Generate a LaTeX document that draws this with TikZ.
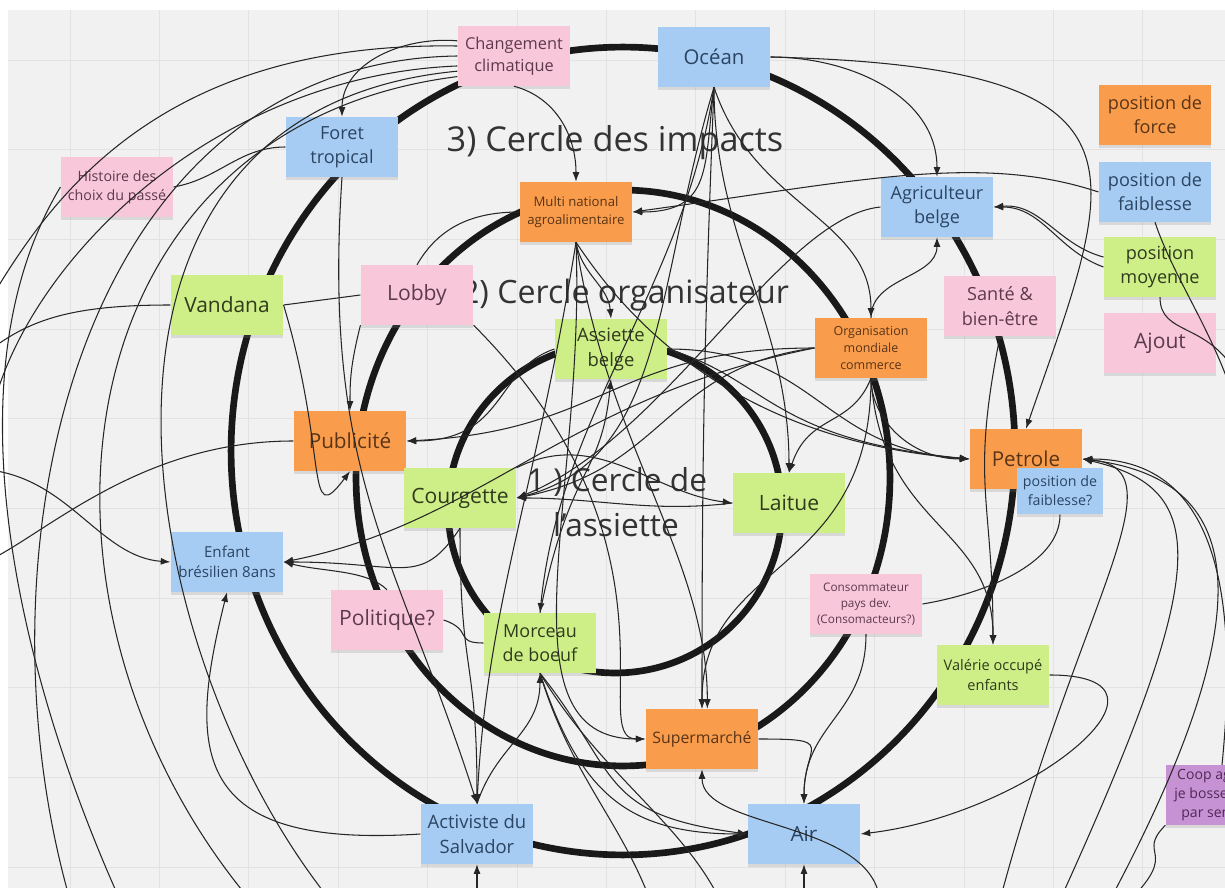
\documentclass[tikz,border=0pt]{standalone}
\usepackage{fontspec}
\setmainfont{Open Sans}
\usetikzlibrary{arrows.meta,shadows}

\definecolor{board}{HTML}{F1F1F1}
\definecolor{gridline}{HTML}{E2E2E2}
\definecolor{notepink}{HTML}{F9C7DA}
\definecolor{noteblue}{HTML}{A7CCF3}
\definecolor{notegreen}{HTML}{CEEE88}
\definecolor{noteorange}{HTML}{F99D4D}
\definecolor{notepurple}{HTML}{C792D3}
\definecolor{inkpink}{HTML}{5C3A4C}
\definecolor{inkblue}{HTML}{2B4563}
\definecolor{inkgreen}{HTML}{2F3B1C}
\definecolor{inkorange}{HTML}{5A3416}
\definecolor{inkpurple}{HTML}{4F2A57}
\definecolor{titleink}{HTML}{333333}

\newcommand{\fs}[1]{\fontsize{#1}{\fpeval{1.35*#1}}\selectfont}

\begin{document}
\begin{tikzpicture}[x=0.02cm, y=0.02cm, >={Latex[length=5.5pt,width=4pt]}]
    \tikzstyle{note} = [rectangle, minimum width=64pt, minimum height=34pt, text centered, align=center, inner sep=1pt, drop shadow={shadow xshift=0pt, shadow yshift=-1.6pt, opacity=0.22}]
    \tikzstyle{pinknote} = [note, fill=notepink, text=inkpink]
    \tikzstyle{bluenote} = [note, fill=noteblue, text=inkblue]
    \tikzstyle{greennote} = [note, fill=notegreen, text=inkgreen]
    \tikzstyle{orangenote} = [note, fill=noteorange, text=inkorange]
    \tikzstyle{purplenote} = [note, fill=notepurple, text=inkpurple]
    \tikzstyle{title} = [text=titleink, inner sep=0pt]
    \tikzstyle{ring} = [line width=3.8pt, black!90]
    \tikzstyle{link} = [line width=0.6pt, black!85]

    % Board
    \useasboundingbox (0,0) rectangle (1225,-888);
    \clip (0,0) rectangle (1225,-888);
    \fill [white] (0,0) rectangle (1225,-888);
    \fill [board] (8,-10) rectangle (1225,-888);
    \foreach \gx in {70,159.4,...,1225} \draw [gridline, line width=0.5pt] (\gx,-10) -- (\gx,-888);
    \foreach \gy in {60,149.7,...,888} \draw [gridline, line width=0.5pt] (8,-\gy) -- (1225,-\gy);

    % Circles
    \draw [ring] (623,-451) ellipse [x radius=7.84cm, y radius=8.08cm];
    \draw [ring] (623,-478) ellipse [x radius=5.34cm, y radius=5.76cm];
    \draw [ring] (615,-508) ellipse [x radius=3.34cm, y radius=3.3cm];

    % Titles
    \node [title, font=\fs{19.5}] (t3) at (615,-143) {3) Cercle des impacts};
    \node [title, font=\fs{18.3}] (t2) at (625,-295) {2) Cercle organisateur};
    \node [title, font=\fs{18}] (t1a) at (617,-482) {1 ) Cercle de};
    \node [title, font=\fs{18}] (t1b) at (616,-525) {l'assiette};

    % Impacts
    \node [pinknote, font=\fs{9.3}] (chg) at (514,-56) {Changement\\climatique};
    \node [bluenote, font=\fs{11.6}] (ocean) at (714,-57) {Océan};
    \node [bluenote, font=\fs{10.3}] (foret) at (342,-147) {Foret\\tropical};
    \node [pinknote, font=\fs{8.1}] (histoire) at (117,-187) {Histoire des\\choix du passé};
    \node [greennote, font=\fs{11.9}] (vandana) at (227,-305) {Vandana};
    \node [bluenote, font=\fs{10.3}] (agri) at (937,-207) {Agriculteur\\belge};
    \node [pinknote, font=\fs{10.3}] (sante) at (1000,-306) {Santé \&\\bien-être};
    \node [orangenote, font=\fs{11.7}] (petrole) at (1026,-459) {Petrole};
    \node [bluenote, font=\fs{8.1}, minimum width=49pt, minimum height=26.6pt] (faibleq) at (1060,-491) {position de\\faiblesse?};
    \node [greennote, font=\fs{8.3}] (valerie) at (993,-675) {Valérie occupé\\enfants};
    \node [bluenote, font=\fs{8.6}] (enfant) at (227,-562) {Enfant\\brésilien 8ans};
    \node [bluenote, font=\fs{10.5}] (activiste) at (477,-834) {Activiste du\\Salvador};
    \node [bluenote, font=\fs{11.8}] (air) at (804,-834) {Air};

    % Organisers
    \node [pinknote, font=\fs{12}] (lobby) at (417,-295) {Lobby};
    \node [orangenote, font=\fs{7.5}] (multi) at (576,-212) {Multi national\\agroalimentaire};
    \node [orangenote, font=\fs{7.1}] (omc) at (871,-348) {Organisation\\mondiale\\commerce};
    \node [orangenote, font=\fs{11.8}] (pub) at (350,-441) {Publicité};
    \node [pinknote, font=\fs{6.7}] (conso) at (866,-604) {Consommateur\\pays dev.\\(Consomacteurs?)};
    \node [pinknote, font=\fs{12}] (politique) at (387,-620) {Politique?};
    \node [orangenote, font=\fs{9}] (superm) at (702,-739) {Supermarché};

    % Plate
    \node [greennote, font=\fs{10.5}] (assiette) at (611,-349) {Assiette\\belge};
    \node [greennote, font=\fs{12}] (courgette) at (460,-498) {Courgette};
    \node [greennote, font=\fs{12}] (laitue) at (789,-503) {Laitue};
    \node [greennote, font=\fs{10.2}] (morceau) at (540,-643) {Morceau\\de boeuf};

    % Legend
    \node [orangenote, font=\fs{10.3}] (force) at (1155,-115) {position de\\force};
    \node [bluenote, font=\fs{10.3}] (faible) at (1155,-192) {position de\\faiblesse};
    \node [greennote, font=\fs{10.3}] (moyenne) at (1160,-267) {position\\moyenne};
    \node [pinknote, font=\fs{12}] (ajout) at (1160,-343) {Ajout};
    \node [purplenote, font=\fs{8}] (coop) at (1222,-795) {Coop agricole\\je bosse 1 jour\\par semaine};

    % Off-board ends
    \coordinate (w1) at (-10,-300);
    \coordinate (w2) at (-10,-420);
    \coordinate (w3) at (-10,-350);
    \coordinate (w4) at (-10,-560);
    \coordinate (w5) at (-10,-470);
    \coordinate (sw1) at (70,-900);
    \coordinate (sw2) at (250,-900);
    \coordinate (sw3) at (330,-900);
    \coordinate (sw4) at (120,-900);
    \coordinate (e1) at (1240,-420);
    \coordinate (e2) at (1240,-380);
    \coordinate (s1) at (880,-900);
    \coordinate (s2) at (1000,-900);
    \coordinate (s3) at (1060,-900);
    \coordinate (s4) at (1110,-900);
    \coordinate (s5) at (1130,-900);
    \coordinate (s6) at (477,-900);
    \coordinate (s7) at (804,-900);
    \coordinate (s8) at (650,-900);
    \coordinate (s9) at (720,-900);

    \begin{scope}[link]
    % Top connections
    \draw [->] (chg.165) to[out=175,in=90] (foret.north);
    \draw [->] (chg.south) to[out=-15,in=90] (multi.north);
    \draw [->] (ocean.east) to[out=0,in=90] (agri.north);
    \draw [->] (ocean.east) .. controls +(400,-10) and +(90,260) .. (petrole.north);
    \draw (histoire.east) to[out=10,in=180] (foret.west);

    % Left sweeps
    \draw (chg.west) .. controls +(-380,-5) and +(-100,350) .. (sw1);
    \draw (chg.170) .. controls +(-300,5) and +(60,100) .. (w1);
    \draw (chg.200) .. controls +(-400,-50) and +(-250,300) .. (sw2);
    \draw (chg.190) .. controls +(-250,-10) and +(30,150) .. (w2);
    \draw (chg.195) .. controls +(-420,-40) and +(-200,250) .. (sw3);
    \draw (vandana.west) .. controls +(-100,0) and +(40,30) .. (w3);
    \draw (pub.west) .. controls +(-150,0) and +(60,30) .. (w4);
    \draw (histoire.west) .. controls +(-120,-200) and +(-90,200) .. (sw4);
    \draw [->] (w5) .. controls +(80,-10) and +(-70,5) .. (enfant.west);

    % Multinational
    \draw [->] (multi.south) to[out=-80,in=95] (assiette.north);
    \draw [->] (multi.south) .. controls +(30,-200) and +(0,150) .. (superm.80);
    \draw [->] (multi.south) .. controls +(-40,-250) and +(10,200) .. (activiste.north);
    \draw [->] (multi.south) .. controls +(40,-60) and +(-250,20) .. (petrole.west);
    \draw [->] (multi.south) .. controls +(10,-250) and +(-150,0) .. (superm.west);
    \draw (multi.west) to[out=180,in=60] (lobby.north);

    % Ocean
    \draw [->] (ocean.south) .. controls +(-10,-80) and +(80,0) .. (multi.east);
    \draw [->] (ocean.south) .. controls +(0,-150) and +(0,150) .. (laitue.north);
    \draw [->] (ocean.south) .. controls +(-10,-250) and +(0,250) .. (superm.north);
    \draw [->] (ocean.south) .. controls +(-30,-200) and +(20,200) .. (morceau.north);
    \draw [->] (ocean.south) .. controls +(40,-120) and +(0,100) .. (omc.north);
    \draw [->] (ocean.south) .. controls +(-60,-200) and +(150,40) .. (courgette.east);

    % Farmer and legend
    \draw [->] (faible.west) .. controls +(-120,40) and +(220,30) .. (multi.east);
    \draw [->] (moyenne.west) to[out=160,in=0] (agri.east);
    \draw [->] (moyenne.170) to[out=165,in=5] (agri.east);
    \draw [->] (omc.north) to[out=90,in=-90] (agri.south);
    \draw [->] (agri.west) .. controls +(-100,-10) and +(150,60) .. (courgette.east);
    \draw (faible.south) .. controls +(20,-60) and +(-20,80) .. (e1);
    \draw (moyenne.south) .. controls +(0,-40) and +(-30,60) .. (e2);

    % Trade organisation
    \draw [->] (omc.west) .. controls +(-200,0) and +(200,10) .. (pub.east);
    \draw [->] (omc.west) .. controls +(-150,-20) and +(150,30) .. (courgette.east);
    \draw [->] (omc.south) .. controls +(0,-40) and +(-60,0) .. (petrole.west);
    \draw [->] (omc.south) .. controls +(10,-150) and +(0,120) .. (valerie.north);
    \draw [->] (omc.south) .. controls +(-20,-50) and +(20,60) .. (laitue.north);
    \draw [->] (omc.south) .. controls +(0,-200) and +(0,150) .. (superm.north);
    \draw [->] (omc.west) .. controls +(-250,-50) and +(200,40) .. (enfant.east);
    \draw [->] (sante.south) .. controls +(-30,-150) and +(0,150) .. (valerie.north);

    % Plate
    \draw [->] (assiette.east) .. controls +(150,0) and +(-150,10) .. (petrole.west);
    \draw [->] (assiette.east) .. controls +(100,-30) and +(-200,20) .. (petrole.west);
    \draw [->] (assiette.west) .. controls +(-60,-20) and +(100,0) .. (pub.east);
    \draw [->] (morceau.north) .. controls +(30,150) and +(-10,-100) .. (assiette.south);
    \draw [->] (courgette.north east) .. controls +(80,40) and +(-80,10) .. (laitue.west);
    \draw [->] (laitue.west) .. controls +(-80,-10) and +(80,0) .. (courgette.east);
    \draw [->] (courgette.south) .. controls +(-40,-60) and +(120,0) .. (enfant.east);
    \draw [->] (politique.north) .. controls +(-20,20) and +(40,-10) .. (enfant.east);
    \draw [->] (courgette.south) .. controls +(0,-150) and +(0,150) .. (activiste.north);

    % Lobby and advertising
    \draw [->] (lobby.south west) .. controls +(-10,-40) and +(0,30) .. (pub.north);
    \draw (vandana.east) -- (lobby.west);
    \draw [->] (vandana.east) .. controls +(45,-150) and +(-45,-60) .. (pub.south);
    \draw [->] (foret.south) .. controls +(-20,-300) and +(-80,250) .. (activiste.north);
    \draw (politique.east) .. controls +(30,-10) and +(-30,0) .. (morceau.west);
    \draw [->] (lobby.south east) .. controls +(220,-220) and +(-60,0) .. (superm.west);

    % Child
    \draw [->] (activiste.west) .. controls +(-230,-15) and +(-40,-160) .. (enfant.south);

    % Supermarket and air
    \draw [->] (superm.east) .. controls +(80,0) and +(0,60) .. (air.north);
    \draw [->] (conso.south) .. controls +(0,-80) and +(0,80) .. (air.north);
    \draw [->] (morceau.south) .. controls +(40,-120) and +(-120,0) .. (air.west);
    \draw [->] (morceau.south) .. controls +(80,-100) and +(-150,20) .. (air.west);
    \draw [->] (activiste.north) .. controls +(20,60) and +(0,-60) .. (morceau.south);
    \draw [->] (s1) .. controls +(-10,80) and +(0,-60) .. (superm.south);
    \draw [->] (valerie.east) .. controls +(150,0) and +(170,20) .. (air.east);
    \draw (faibleq.south) .. controls +(0,-50) and +(60,10) .. (conso.east);
    \draw (morceau.south) .. controls +(30,-100) and +(-30,80) .. (s8);
    \draw (morceau.south) .. controls +(60,-100) and +(-40,80) .. (s9);

    % Oil
    \draw [->] (s2) .. controls +(80,300) and +(100,-10) .. (petrole.east);
    \draw [->] (s3) .. controls +(150,330) and +(130,-30) .. (petrole.east);
    \draw [->] (s4) .. controls +(160,300) and +(160,-20) .. (petrole.east);
    \draw [->] (coop.north) .. controls +(20,200) and +(120,0) .. (petrole.east);
    \draw (coop.south west) .. controls +(-30,-30) and +(50,50) .. (s5);

    % From below
    \draw [->] (s6) -- (activiste.south);
    \draw [->] (s7) -- (air.south);
    \end{scope}
\end{tikzpicture}
\end{document}
